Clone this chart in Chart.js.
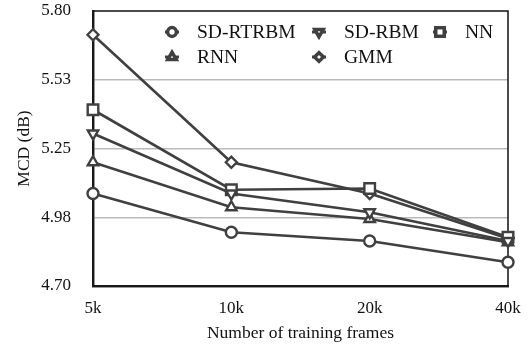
<!DOCTYPE html>
<html>
<head>
<meta charset="utf-8">
<script src="https://cdn.jsdelivr.net/npm/chart.js@4.4.1/dist/chart.umd.min.js"></script>
<style>
  html, body { margin: 0; padding: 0; background: #fff; }
  #wrap { width: 529px; height: 347px; }
</style>
</head>
<body>
<div id="wrap"><canvas id="grafico"></canvas></div>
<script>
// datos
const categories = ['5k', '10k', '20k', '40k'];
const seriesNames = ['SD-RTRBM', 'SD-RBM', 'NN', 'RNN', 'GMM'];
const sdRtrbm = [5.07, 4.915, 4.88, 4.795];
const sdRbm = [5.31, 5.07, 4.995, 4.88];
const nn = [5.405, 5.085, 5.09, 4.895];
const rnn = [5.195, 5.015, 4.968, 4.875];
const gmm = [5.705, 5.195, 5.07, 4.89];
const yTickLabels = ['4.70', '4.98', '5.25', '5.53', '5.80'];

const FONT = "'Liberation Serif', 'Times New Roman', serif";
const INK = '#404040';

function serie(label, data, style, radius, rot) {
    return {
        label: label,
        data: data,
        borderColor: INK,
        borderWidth: 2.6,
        backgroundColor: '#fff',
        pointStyle: style,
        pointRadius: radius,
        pointRotation: rot || 0,
        pointBorderWidth: 2.4,
        pointBackgroundColor: '#fff',
        pointBorderColor: INK,
        tension: 0,
        fill: false
    };
}

const datasets = [
    serie(seriesNames[0], sdRtrbm, 'circle', 5.5),
    serie(seriesNames[1], sdRbm, 'triangle', 6, 180),
    serie(seriesNames[2], nn, 'rect', 7.5),
    serie(seriesNames[3], rnn, 'triangle', 6),
    serie(seriesNames[4], gmm, 'rectRot', 5.5)
];

// marco del area de trazado
const marco = {
    id: 'marco',
    beforeDatasetsDraw(chart) {
        const a = chart.chartArea, ctx = chart.ctx;
        ctx.save();
        ctx.strokeStyle = '#111';
        ctx.lineWidth = 1.5;
        ctx.strokeRect(a.left, a.top, a.right - a.left, a.bottom - a.top);
        ctx.restore();
    }
};

// leyenda dentro del grafico, como en la figura
const leyenda = {
    id: 'leyenda',
    afterDraw(chart) {
        const ctx = chart.ctx;
        const colX = [172, 319, 440];
        const rowY = [32, 57];
        ctx.save();
        chart.data.datasets.forEach((ds, i) => {
            const x = colX[i % 3], y = rowY[Math.floor(i / 3)];
            ctx.strokeStyle = INK;
            ctx.lineWidth = 3;
            ctx.beginPath();
            ctx.moveTo(x - 7, y);
            ctx.lineTo(x + 7, y);
            ctx.stroke();
            ctx.fillStyle = '#fff';
            ctx.lineWidth = 3.5;
            Chart.helpers.drawPoint(ctx, {
                pointStyle: ds.pointStyle,
                rotation: ds.pointRotation,
                radius: ds.pointRadius * 0.8,
                borderWidth: 3.5
            }, x, y);
            ctx.fillStyle = '#111';
            ctx.font = '19.5px ' + FONT;
            ctx.textBaseline = 'middle';
            ctx.textAlign = 'left';
            ctx.fillText(ds.label, x + 25, y + 1);
        });
        ctx.restore();
    }
};

new Chart(document.getElementById('grafico'), {
    type: 'line',
    data: { labels: categories, datasets: datasets },
    options: {
        responsive: true,
        maintainAspectRatio: false,
        animation: false,
        layout: { padding: { left: 0, right: 21, top: 11, bottom: 0 } },
        plugins: { legend: { display: false }, tooltip: { enabled: false } },
        scales: {
            x: {
                type: 'category',
                offset: false,
                grid: { display: false, drawTicks: false },
                border: { display: true, color: '#333', width: 2.5 },
                ticks: { color: '#111', padding: 12, font: { family: FONT, size: 17 }, maxRotation: 0 },
                title: {
                    display: true,
                    text: 'Number of training frames',
                    color: '#111',
                    font: { family: FONT, size: 17.5 },
                    padding: { top: 0, bottom: 3 }
                },
                afterFit(s) { s.height = 61; s.paddingLeft = 0; s.paddingRight = 0; }
            },
            y: {
                min: 4.7,
                max: 5.8,
                grid: {
                    drawTicks: false,
                    lineWidth: 1.5,
                    color: (c) => (c.index === 0 || c.index === yTickLabels.length - 1) ? 'rgba(0,0,0,0)' : '#bbbbbb'
                },
                border: { display: true, color: '#333', width: 2.5 },
                ticks: {
                    stepSize: 0.275,
                    color: '#111',
                    padding: 22,
                    font: { family: FONT, size: 17 },
                    callback: (v, i) => yTickLabels[i]
                },
                title: {
                    display: true,
                    text: 'MCD (dB)',
                    color: '#111',
                    font: { family: FONT, size: 17.5 },
                    padding: { top: 14, bottom: 0 }
                },
                afterFit(s) { s.width = 93; s.paddingTop = 0; s.paddingBottom = 0; }
            }
        }
    },
    plugins: [marco, leyenda]
});
</script>
</body>
</html>
